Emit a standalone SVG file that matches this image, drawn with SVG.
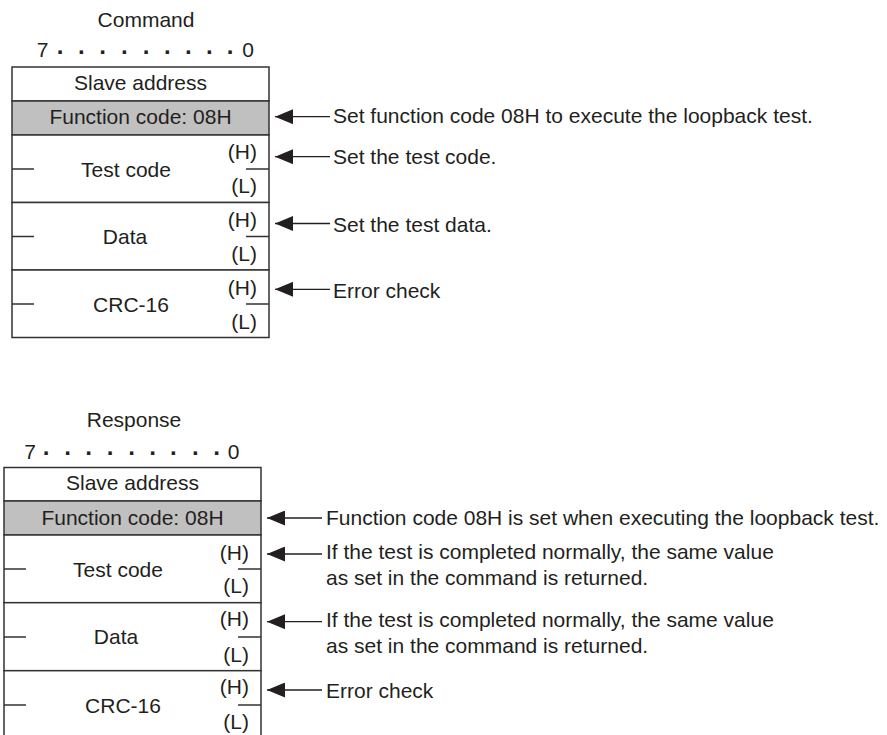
<svg xmlns="http://www.w3.org/2000/svg" width="887" height="735" viewBox="0 0 887 735">
<style>
text{font-family:"Liberation Sans",Arial,sans-serif;font-size:21px;fill:#231f20}
.m{text-anchor:middle}
.e{text-anchor:end}
.dots{font-weight:bold;font-size:24px}
.box{fill:#fff;stroke:#333;stroke-width:1.5}
.gray{fill:#c0c0c0;stroke:#333;stroke-width:1.5}
.tick{stroke:#333;stroke-width:1.3;fill:none}
.arr{stroke:#231f20;stroke-width:1.3;fill:none;marker-end:url(#ah)}
</style>
<defs>
<marker id="ah" viewBox="0 0 18 15" refX="18" refY="7.5" markerWidth="18" markerHeight="15" orient="auto" markerUnits="userSpaceOnUse">
<path d="M0,0 L18,7.5 L0,15 z" fill="#231f20"/>
</marker>
</defs>
<rect width="887" height="735" fill="#fff"/>

<!-- Command frame -->
<g id="command">
<text class="m" x="146" y="27">Command</text>
<text class="m" x="42.5" y="57">7</text>
<text class="m dots" x="60.7 82 103.3 125 146.7 168 189 210 230.7" y="59.5">·········</text>
<text class="m" x="248" y="57">0</text>
<g id="cmd-slave"><rect class="box" x="12" y="67" width="257" height="34"/><text class="m" x="140.5" y="90">Slave address</text></g>
<g id="cmd-func"><rect class="gray" x="12" y="101" width="257" height="34"/><text class="m" x="140.5" y="124.3">Function code: 08H</text></g>
<g id="cmd-test"><rect class="box" x="12" y="135" width="257" height="67.5"/>
<path class="tick" d="M12,169H34M246,169H269"/>
<text class="m" x="126" y="176.5">Test code</text><text class="e" x="257" y="159">(H)</text><text class="e" x="257" y="193">(L)</text></g>
<g id="cmd-data"><rect class="box" x="12" y="202.5" width="257" height="67.5"/>
<path class="tick" d="M12,236.5H34M246,236.5H269"/>
<text class="m" x="125" y="244">Data</text><text class="e" x="257" y="226.5">(H)</text><text class="e" x="257" y="260.5">(L)</text></g>
<g id="cmd-crc"><rect class="box" x="12" y="270" width="257" height="67.5"/>
<path class="tick" d="M12,304H34M246,304H269"/>
<text class="m" x="131" y="312">CRC-16</text><text class="e" x="257" y="294.5">(H)</text><text class="e" x="257" y="328.5">(L)</text></g>
</g>

<!-- Response frame -->
<g id="response">
<text class="m" x="134" y="427">Response</text>
<text class="m" x="30" y="458.5">7</text>
<text class="m dots" x="46.7 68.3 89.3 110.7 132.3 153.3 174 196 217.3" y="461">·········</text>
<text class="m" x="233.5" y="458.5">0</text>
<g id="rsp-slave"><rect class="box" x="4" y="467.5" width="257" height="33.5"/><text class="m" x="132.5" y="490">Slave address</text></g>
<g id="rsp-func"><rect class="gray" x="4" y="501" width="257" height="34"/><text class="m" x="132.5" y="525">Function code: 08H</text></g>
<g id="rsp-test"><rect class="box" x="4" y="535" width="257" height="67.7"/>
<path class="tick" d="M4,569H26M238,569H261"/>
<text class="m" x="118" y="577">Test code</text><text class="e" x="249" y="559.5">(H)</text><text class="e" x="249" y="593">(L)</text></g>
<g id="rsp-data"><rect class="box" x="4" y="602.7" width="257" height="68"/>
<path class="tick" d="M4,637H26M238,637H261"/>
<text class="m" x="116" y="644">Data</text><text class="e" x="249" y="626">(H)</text><text class="e" x="249" y="661.5">(L)</text></g>
<g id="rsp-crc"><rect class="box" x="4" y="670.7" width="257" height="70"/>
<path class="tick" d="M4,705H26M238,705H261"/>
<text class="m" x="123" y="713">CRC-16</text><text class="e" x="249" y="693.5">(H)</text><text class="e" x="249" y="728.5">(L)</text></g>
</g>

<!-- Connectors -->
<g id="connectors">
<line class="arr" x1="330" y1="116.7" x2="275" y2="116.7"/>
<line class="arr" x1="330" y1="156.7" x2="275" y2="156.7"/>
<line class="arr" x1="330" y1="223.5" x2="275" y2="223.5"/>
<line class="arr" x1="330" y1="289.3" x2="275" y2="289.3"/>
<line class="arr" x1="322" y1="518" x2="267" y2="518"/>
<line class="arr" x1="322" y1="554" x2="267" y2="554"/>
<line class="arr" x1="322" y1="621.7" x2="267" y2="621.7"/>
<line class="arr" x1="322" y1="690" x2="267" y2="690"/>
</g>

<!-- Annotations -->
<g id="notes">
<text x="333" y="123.3">Set function code 08H to execute the loopback test.</text>
<text x="333" y="164.3">Set the test code.</text>
<text x="333" y="231.7">Set the test data.</text>
<text x="333" y="298.3">Error check</text>
<text x="326" y="525">Function code 08H is set when executing the loopback test.</text>
<text x="326" y="559"><tspan x="326">If the test is completed normally, the same value</tspan><tspan x="326" dy="26">as set in the command is returned.</tspan></text>
<text x="326" y="626.7"><tspan x="326">If the test is completed normally, the same value</tspan><tspan x="326" dy="26">as set in the command is returned.</tspan></text>
<text x="326" y="698.3">Error check</text>
</g>
</svg>
